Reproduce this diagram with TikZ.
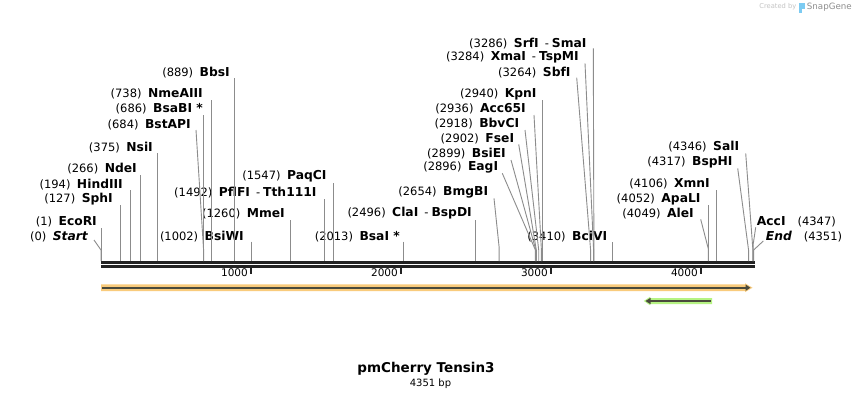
\documentclass[tikz,border=0pt]{standalone}
\usepackage{fontspec}
\setmainfont{DejaVu Sans}
\usetikzlibrary{arrows.meta}
\definecolor{linegray}{HTML}{8C8C8C}
\definecolor{barblack}{HTML}{222222}
\definecolor{orband}{HTML}{F9CB7C}
\definecolor{grband}{HTML}{B6F383}
\definecolor{darkfeat}{HTML}{4A4A3C}
\definecolor{wmgray}{HTML}{C4C4C4}
\definecolor{wmdark}{HTML}{8E8E8E}
\definecolor{wmblue}{HTML}{7CCBF2}
\newcommand\bnm[1]{{\fontsize{12.3}{13}\selectfont\bfseries #1}}
\newcommand\lbl[2]{(#1)\hspace{6.5pt}\bnm{#2}}
\begin{document}
\begin{tikzpicture}[x=1pt,y=-1pt,
  lab/.style={anchor=east,inner sep=0pt,font=\fontsize{11.5}{13}\selectfont},
  labw/.style={anchor=west,inner sep=0pt,font=\fontsize{11.5}{13}\selectfont},
  lk/.style={draw=linegray,line width=0.9pt},
  barline/.style={draw=barblack,line width=2.7pt},
  tickmark/.style={draw=barblack,line width=2pt},
  ticklab/.style={anchor=east,inner sep=0pt,font=\fontsize{10.5}{12}\selectfont}]
\useasboundingbox[fill=white] (0,0) rectangle (856,400);

% watermark
\node[anchor=east,inner sep=0pt,text=wmgray,font=\fontsize{6.7}{8}\selectfont] (wm1) at (796.5,7) {Created by};
\fill[wmblue] (799,2.5) rectangle (805,8.5);
\fill[wmblue] (799,8.5) rectangle (802,12.5);
\node[anchor=west,inner sep=0pt,text=wmdark,font=\fontsize{8.7}{10}\selectfont] (wm2) at (806.7,7) {SnapGene};

% map bar
\coordinate (barL1) at (101,262.3); \coordinate (barR1) at (755,262.3);
\coordinate (barL2) at (101,266.7); \coordinate (barR2) at (755,266.7);
\draw[barline] (barL1) -- (barR1);
\draw[barline] (barL2) -- (barR2);
\foreach \p in {1000,2000,3000,4000}{
  \pgfmathsetmacro\xx{101+0.15*\p}
  \draw[tickmark] (\xx,268) -- (\xx,274);
  \node[ticklab] at (\xx-3,273) {\p};
}

% features
\fill[orband] (101,284.3) -- (745,284.3) -- (745,283.3) -- (752.5,287.7) -- (745,292.1) -- (745,291.1) -- (101,291.1) -- cycle;
\coordinate (orA) at (102,287.7); \coordinate (orB) at (750.5,287.7);
\draw[darkfeat,line width=2pt,-{Triangle[length=5pt,width=6pt]}] (orA) -- (orB);
\fill[grband] (712,298) -- (650,298) -- (650,296.8) -- (643.8,301) -- (650,305.2) -- (650,304) -- (712,304) -- cycle;
\coordinate (grA) at (710.5,301); \coordinate (grB) at (645.5,301);
\draw[darkfeat,line width=2pt,-{Triangle[length=5pt,width=6pt]}] (grA) -- (grB);

% labels
\node[lab] (nStart) at (88,237) {(0)\hspace{6.5pt}\bnm{\itshape Start}};
\node[lab] (nEcoRI) at (97,222) {\lbl{1}{EcoRI}};
\node[lab] (nSph) at (113,199.3) {\lbl{127}{SphI}};
\node[lab] (nHind) at (123,184.3) {\lbl{194}{HindIII}};
\node[lab] (nNde) at (137,169) {\lbl{266}{NdeI}};
\node[lab] (nNsi) at (153,147.3) {\lbl{375}{NsiI}};
\node[lab] (nBstAPI) at (191,124.3) {\lbl{684}{BstAPI}};
\node[lab] (nBsaBI) at (203,108.7) {\lbl{686}{BsaBI *}};
\node[lab] (nNme) at (203,93.7) {\lbl{738}{NmeAIII}};
\node[lab] (nBbs) at (230,72.3) {\lbl{889}{BbsI}};
\node[lab] (nBsiWI) at (244,236.7) {\lbl{1002}{BsiWI}};
\node[lab] (nMme) at (285,213.3) {\lbl{1260}{MmeI}};
\node[lab] (nPfl) at (316.7,192.3) {\lbl{1492}{PflFI}\hspace{6pt}-\hspace{3pt}\bnm{Tth111I}};
\node[lab] (nPaq) at (326.7,176.7) {\lbl{1547}{PaqCI}};
\node[lab] (nBsaI) at (400,236.7) {\lbl{2013}{BsaI *}};
\node[lab] (nCla) at (472,213.3) {\lbl{2496}{ClaI}\hspace{6pt}-\hspace{3pt}\bnm{BspDI}};
\node[lab] (nBmg) at (488.3,192.3) {\lbl{2654}{BmgBI}};
\node[lab] (nEag) at (498.3,167.3) {\lbl{2896}{EagI}};
\node[lab] (nBsiEI) at (506,154) {\lbl{2899}{BsiEI}};
\node[lab] (nFse) at (514.3,138.7) {\lbl{2902}{FseI}};
\node[lab] (nBbv) at (519.3,124) {\lbl{2918}{BbvCI}};
\node[lab] (nAcc65) at (526,109) {\lbl{2936}{Acc65I}};
\node[lab] (nKpn) at (536.7,94) {\lbl{2940}{KpnI}};
\node[lab] (nSbf) at (570.7,72.7) {\lbl{3264}{SbfI}};
\node[lab] (nXma) at (579,57.3) {\lbl{3284}{XmaI}\hspace{6pt}-\hspace{3pt}\bnm{TspMI}};
\node[lab] (nSrf) at (586.7,43.3) {\lbl{3286}{SrfI}\hspace{6pt}-\hspace{3pt}\bnm{SmaI}};
\node[lab] (nBci) at (607.3,236.7) {\lbl{3410}{BciVI}};
\node[lab] (nAle) at (694,213.3) {\lbl{4049}{AleI}};
\node[lab] (nApa) at (700.7,199.3) {\lbl{4052}{ApaLI}};
\node[lab] (nXmn) at (710,183.3) {\lbl{4106}{XmnI}};
\node[lab] (nBspHI) at (732.7,162.3) {\lbl{4317}{BspHI}};
\node[lab] (nSal) at (739.3,146.7) {\lbl{4346}{SalI}};
\node[labw] (nAcc) at (756.7,221.7) {\bnm{AccI}\hspace{12pt}(4347)};
\node[labw] (nEnd) at (765.7,236.7) {\bnm{\itshape End}\hspace{12pt}(4351)};

% connectors
\draw[lk] (nStart.east) ++(6,3) -- (101,250) -- (101,261);
\draw[lk] (nEcoRI.east) ++(4.2,6) -- (101.2,261);
\draw[lk] (nSph.east) ++(7,5.7) -- (120,261);
\draw[lk] (nHind.east) ++(7.1,5.7) -- (130.1,261);
\draw[lk] (nNde.east) ++(3.9,6) -- (140.9,261);
\draw[lk] (nNsi.east) ++(4.25,5.7) -- (157.25,261);
\draw[lk] (nBstAPI.east) ++(5,5.7) -- (203.6,250) -- (203.6,261);
\draw[lk] (nBsaBI.east) ++(0.9,6.3) -- (203.9,261);
\draw[lk] (nNme.east) ++(8.7,6.3) -- (211.7,261);
\draw[lk] (nBbs.east) ++(4.35,5.7) -- (234.35,261);
\draw[lk] (nBsiWI.east) ++(7.3,5) -- (251.3,261);
\draw[lk] (nMme.east) ++(5,6.7) -- (290,261);
\draw[lk] (nPfl.east) ++(8.1,6.7) -- (324.8,261);
\draw[lk] (nPaq.east) ++(6.35,6.3) -- (333.05,261);
\draw[lk] (nBsaI.east) ++(2.95,5) -- (402.95,261);
\draw[lk] (nCla.east) ++(3.4,6.7) -- (475.4,261);
\draw[lk] (nBmg.east) ++(5.7,6) -- (499.1,247) -- (499.1,261);
\draw[lk] (nEag.east) ++(4,6) -- (535.4,250) -- (535.4,261);
\draw[lk] (nBsiEI.east) ++(5,6) -- (535.85,250) -- (535.85,261);
\draw[lk] (nFse.east) ++(4.4,5.6) -- (536.3,250) -- (536.3,261);
\draw[lk] (nBbv.east) ++(5.7,6) -- (538.7,250) -- (538.7,261);
\draw[lk] (nAcc65.east) ++(8,6) -- (541.4,250) -- (541.4,261);
\draw[lk] (nKpn.east) ++(5.3,6) -- (542,261);
\draw[lk] (nSbf.east) ++(6,5) -- (590.6,250) -- (590.6,261);
\draw[lk] (nXma.east) ++(6,6) -- (593.6,250) -- (593.6,261);
\draw[lk] (nSrf.east) ++(6.6,5) -- (593.9,250) -- (593.9,261);
\draw[lk] (nBci.east) ++(5.2,5.6) -- (612.5,261);
\draw[lk] (nAle.east) ++(6.7,6) -- (708.35,249) -- (708.35,261);
\draw[lk] (nApa.east) ++(8.1,5.7) -- (708.8,261);
\draw[lk] (nXmn.east) ++(6.9,6.7) -- (716.9,261);
\draw[lk] (nBspHI.east) ++(5,6) -- (748.55,250) -- (748.55,261);
\draw[lk] (nSal.east) ++(6.4,6.6) -- (752.9,250) -- (752.9,261);
\draw[lk] (nAcc.west) ++(-1,5.6) -- (753.05,245) -- (753.05,261);
\draw[lk] (nEnd.west) ++(-2.4,4.3) -- (753.65,250) -- (753.65,261);

% title
\node[inner sep=0pt,font=\bfseries\fontsize{13.5}{16}\selectfont] (title) at (426,369) {pmCherry Tensin3};
\node[inner sep=0pt,font=\fontsize{10}{12}\selectfont] (len) at (430.5,383.5) {4351 bp};
\end{tikzpicture}
\end{document}
